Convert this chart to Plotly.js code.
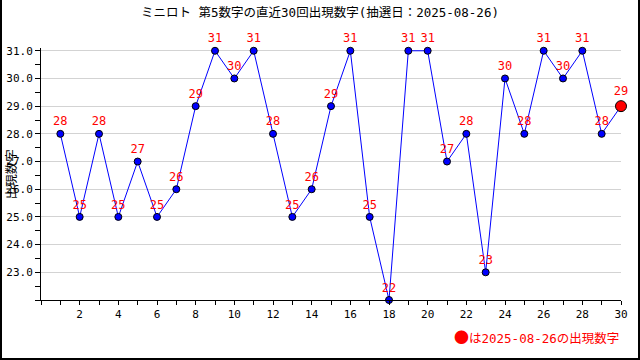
<!DOCTYPE html>
<html>
<head>
<meta charset="utf-8">
<script src="https://cdn.plot.ly/plotly-3.0.1.min.js"></script>
<style>
html,body{margin:0;padding:0;background:#fff;}
#wrap{position:relative;width:640px;height:360px;}
#chart{position:absolute;left:0;top:0;width:640px;height:360px;}
#frame{position:absolute;left:0;top:0;width:640px;height:360px;box-sizing:border-box;
  border-left:2px solid #000;border-right:2px solid #000;border-bottom:2px solid #000;pointer-events:none;}
</style>
</head>
<body>
<div id="wrap"><div id="chart"></div><div id="frame"></div></div>
<script>
const draws = [1,2,3,4,5,6,7,8,9,10,11,12,13,14,15,16,17,18,19,20,21,22,23,24,25,26,27,28,29,30];
const values = [28,25,28,25,27,25,26,29,31,30,31,28,25,26,29,31,25,22,31,31,27,28,23,30,28,31,30,31,28,29];
const xTickVals = [2,4,6,8,10,12,14,16,18,20,22,24,26,28,30];
const yTickVals = [23,24,25,26,27,28,29,30,31];
const yTickText = ["23.0","24.0","25.0","26.0","27.0","28.0","29.0","30.0","31.0"];
const chartTitle = "ミニロト 第5数字の直近30回出現数字(抽選日：2025-08-26)";
const yTitle = "出現数字";
const noteMark = "●";
const noteText = "は2025-08-26の出現数字";

const FONT = "'DejaVu Sans Mono', 'Noto Sans CJK JP', monospace";
const n = values.length;
const markerColors = values.map((v,i)=> i===n-1 ? "#ff0000" : "#0000ff");
const markerSizes = values.map((v,i)=> i===n-1 ? 11 : 7);

const trace = {
  x: draws, y: values,
  type: "scatter",
  mode: "lines+markers+text",
  text: values.map(String),
  textposition: "top center",
  textfont: {family: FONT, size: 12, color: "#ff0000"},
  line: {color: "#0000ff", width: 1},
  marker: {color: markerColors, size: markerSizes, opacity: 1, line: {color: "#000", width: 1}},
  opacity: 1,
  cliponaxis: false,
  hoverinfo: "none"
};

const layout = {
  width: 640, height: 360,
  margin: {l: 41, r: 19, t: 48, b: 60, pad: 0},
  paper_bgcolor: "#fff", plot_bgcolor: "#fff",
  showlegend: false,
  font: {family: FONT, size: 11, color: "#000"},
  title: {text: chartTitle, x: 0.5, xanchor: "center", y: 0.978, yanchor: "top",
          font: {family: FONT, size: 12.5, color: "#000"}},
  xaxis: {
    range: [0, 30], tickvals: xTickVals, ticktext: xTickVals.map(String),
    showgrid: false, zeroline: false, showline: true, linecolor: "#000", linewidth: 1,
    ticks: "outside", ticklen: 4, tickcolor: "#000",
    minor: {dtick: 1, tick0: 0, ticks: "outside", ticklen: 4, tickcolor: "#000", showgrid: false},
    tickfont: {family: FONT, size: 11, color: "#000"}
  },
  yaxis: {
    range: [22, 31.1], tickvals: yTickVals, ticktext: yTickText,
    showgrid: true, gridcolor: "#d3d3d3", gridwidth: 1,
    zeroline: false, showline: true, linecolor: "#000", linewidth: 1,
    ticks: "outside", ticklen: 5, tickcolor: "#000",
    minor: {dtick: 0.5, tick0: 22, ticks: "outside", ticklen: 5, tickcolor: "#000", showgrid: false},
    tickfont: {family: FONT, size: 11, color: "#000"}
  },
  annotations: [
    {
      text: yTitle, xref: "paper", yref: "paper", x: -0.053, y: 0.50,
      xanchor: "center", yanchor: "middle", textangle: -90, showarrow: false,
      font: {family: "'Noto Sans CJK JP', sans-serif", size: 12.5, color: "#000"}
    },
    {
      text: "<span style='font-family:Noto Sans CJK JP;font-size:15px'>" + noteMark + "</span>" + noteText,
      xref: "paper", yref: "paper", x: 0.9995, y: -0.146,
      xanchor: "right", yanchor: "middle", showarrow: false,
      font: {family: FONT, size: 12.5, color: "#ff0000"}
    }
  ]
};

Plotly.newPlot("chart", [trace], layout, {staticPlot: true, displayModeBar: false});
</script>
</body>
</html>
